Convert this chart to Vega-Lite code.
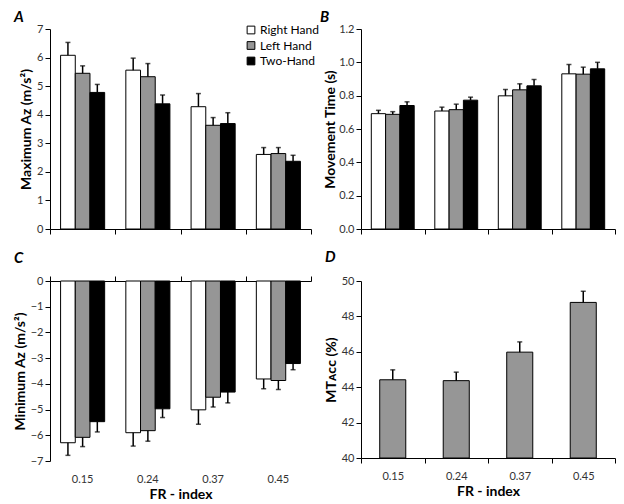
{
  "$schema": "https://vega.github.io/schema/vega-lite/v6.json",
  "background": "white",
  "padding": {"left": 13, "top": 10, "right": 5, "bottom": 5},
  "config": {
    "font": "Lato",
    "view": {"stroke": null},
    "axis": {"labelFont": "Lato", "labelFontSize": 11, "labelColor": "#333333", "labelOverlap": false, "titleFont": "Lato", "titleFontSize": 14, "titleFontWeight": "bold", "titleColor": "#000000", "domainColor": "#000000", "tickColor": "#000000", "domainWidth": 1, "tickWidth": 1, "tickSize": 5, "grid": false, "labelPadding": 2, "titlePadding": 3},
    "title": {"font": "Lato", "fontSize": 15, "fontWeight": "bold", "fontStyle": "italic", "color": "#000000", "anchor": "start", "frame": "group"}
  },
  "datasets": {
    "A": [
      {"fr": "0.15", "hand": "Right Hand", "v": 6.08, "e": 6.53},
      {"fr": "0.15", "hand": "Left Hand", "v": 5.45, "e": 5.71},
      {"fr": "0.15", "hand": "Two-Hand", "v": 4.78, "e": 5.06},
      {"fr": "0.24", "hand": "Right Hand", "v": 5.56, "e": 5.98},
      {"fr": "0.24", "hand": "Left Hand", "v": 5.33, "e": 5.79},
      {"fr": "0.24", "hand": "Two-Hand", "v": 4.38, "e": 4.69},
      {"fr": "0.37", "hand": "Right Hand", "v": 4.28, "e": 4.74},
      {"fr": "0.37", "hand": "Left Hand", "v": 3.63, "e": 3.90},
      {"fr": "0.37", "hand": "Two-Hand", "v": 3.69, "e": 4.07},
      {"fr": "0.45", "hand": "Right Hand", "v": 2.61, "e": 2.85},
      {"fr": "0.45", "hand": "Left Hand", "v": 2.64, "e": 2.85},
      {"fr": "0.45", "hand": "Two-Hand", "v": 2.37, "e": 2.58}
    ],
    "B": [
      {"fr": "0.15", "hand": "Right Hand", "v": 0.692, "e": 0.712},
      {"fr": "0.15", "hand": "Left Hand", "v": 0.688, "e": 0.704},
      {"fr": "0.15", "hand": "Two-Hand", "v": 0.741, "e": 0.763},
      {"fr": "0.24", "hand": "Right Hand", "v": 0.708, "e": 0.731},
      {"fr": "0.24", "hand": "Left Hand", "v": 0.716, "e": 0.749},
      {"fr": "0.24", "hand": "Two-Hand", "v": 0.773, "e": 0.791},
      {"fr": "0.37", "hand": "Right Hand", "v": 0.799, "e": 0.837},
      {"fr": "0.37", "hand": "Left Hand", "v": 0.835, "e": 0.871},
      {"fr": "0.37", "hand": "Two-Hand", "v": 0.859, "e": 0.897},
      {"fr": "0.45", "hand": "Right Hand", "v": 0.931, "e": 0.987},
      {"fr": "0.45", "hand": "Left Hand", "v": 0.929, "e": 0.971},
      {"fr": "0.45", "hand": "Two-Hand", "v": 0.961, "e": 1.000}
    ],
    "C": [
      {"fr": "0.15", "hand": "Right Hand", "v": -6.29, "e": -6.78},
      {"fr": "0.15", "hand": "Left Hand", "v": -6.08, "e": -6.44},
      {"fr": "0.15", "hand": "Two-Hand", "v": -5.47, "e": -5.87},
      {"fr": "0.24", "hand": "Right Hand", "v": -5.90, "e": -6.42},
      {"fr": "0.24", "hand": "Left Hand", "v": -5.82, "e": -6.23},
      {"fr": "0.24", "hand": "Two-Hand", "v": -4.97, "e": -5.31},
      {"fr": "0.37", "hand": "Right Hand", "v": -5.01, "e": -5.57},
      {"fr": "0.37", "hand": "Left Hand", "v": -4.52, "e": -4.90},
      {"fr": "0.37", "hand": "Two-Hand", "v": -4.32, "e": -4.74},
      {"fr": "0.45", "hand": "Right Hand", "v": -3.81, "e": -4.19},
      {"fr": "0.45", "hand": "Left Hand", "v": -3.87, "e": -4.22},
      {"fr": "0.45", "hand": "Two-Hand", "v": -3.21, "e": -3.45}
    ],
    "D": [
      {"fr": "0.15", "v": 44.42, "e": 44.98},
      {"fr": "0.24", "v": 44.37, "e": 44.85},
      {"fr": "0.37", "v": 45.98, "e": 46.56},
      {"fr": "0.45", "v": 48.79, "e": 49.42}
    ]
  },
  "columns": 2,
  "spacing": {"row": 15, "column": 1},
  "resolve": {"scale": {"fill": "independent", "y": "independent", "x": "independent", "xOffset": "independent"}, "legend": {"fill": "independent"}},
  "concat": [
    {
      "title": {"text": "A", "dx": -36, "offset": -2},
      "width": 261, "height": 200,
      "data": {"name": "A"},
      "layer": [
        {
          "mark": {"type": "bar", "stroke": "#000000", "strokeWidth": 1},
          "encoding": {
            "x": {"field": "fr", "type": "nominal", "scale": {"paddingInner": 0, "paddingOuter": 0}, "axis": {"labels": false, "title": null, "tickBand": "extent"}},
            "xOffset": {"field": "hand", "type": "nominal", "scale": {"domain": ["Right Hand", "Left Hand", "Two-Hand"], "paddingInner": 0, "paddingOuter": 0.72}},
            "y": {"field": "v", "type": "quantitative", "title": "Maximum Aᴢ (m/s²)", "scale": {"domain": [0, 7], "nice": false}, "axis": {"values": [0, 1, 2, 3, 4, 5, 6, 7], "labelOverlap": false}},
            "fill": {"field": "hand", "type": "nominal", "scale": {"domain": ["Right Hand", "Left Hand", "Two-Hand"], "range": ["#ffffff", "#969696", "#000000"]},
              "legend": {"title": null, "orient": "none", "legendX": 195, "legendY": -5, "symbolType": "square", "symbolSize": 60, "symbolStrokeColor": "#000000", "symbolStrokeWidth": 1, "labelFontSize": 12, "labelColor": "#000000", "labelFont": "Lato", "rowPadding": 3.5, "labelOffset": 3}}
          }
        },
        {
          "mark": {"type": "rule", "color": "#000000", "strokeWidth": 1.5},
          "encoding": {
            "x": {"field": "fr", "type": "nominal", "axis": {"labels": false, "title": null, "tickBand": "extent"}},
            "xOffset": {"field": "hand", "type": "nominal"},
            "y": {"field": "v", "type": "quantitative", "title": "Maximum Aᴢ (m/s²)", "axis": {"values": [0, 1, 2, 3, 4, 5, 6, 7], "labelOverlap": false}},
            "y2": {"field": "e"}
          }
        },
        {
          "mark": {"type": "tick", "color": "#000000", "thickness": 1.5, "size": 5},
          "encoding": {
            "x": {"field": "fr", "type": "nominal", "axis": {"labels": false, "title": null, "tickBand": "extent"}},
            "xOffset": {"field": "hand", "type": "nominal"},
            "y": {"field": "e", "type": "quantitative", "title": "Maximum Aᴢ (m/s²)", "axis": {"values": [0, 1, 2, 3, 4, 5, 6, 7], "labelOverlap": false}}
          }
        }
      ]
    },
    {
      "title": {"text": "B", "dx": -41, "offset": -2},
      "width": 254, "height": 200,
      "data": {"name": "B"},
      "layer": [
        {
          "mark": {"type": "bar", "stroke": "#000000", "strokeWidth": 1},
          "encoding": {
            "x": {"field": "fr", "type": "nominal", "scale": {"paddingInner": 0, "paddingOuter": 0}, "axis": {"labels": false, "title": null, "tickBand": "extent"}},
            "xOffset": {"field": "hand", "type": "nominal", "scale": {"domain": ["Right Hand", "Left Hand", "Two-Hand"], "paddingInner": 0, "paddingOuter": 0.72}},
            "y": {"field": "v", "type": "quantitative", "title": "Movement Time (s)", "scale": {"domain": [0, 1.2], "nice": false}, "axis": {"values": [0, 0.2, 0.4, 0.6, 0.8, 1.0, 1.2], "format": ".1f", "titlePadding": 1, "labelOverlap": false}},
            "fill": {"field": "hand", "type": "nominal", "scale": {"domain": ["Right Hand", "Left Hand", "Two-Hand"], "range": ["#ffffff", "#969696", "#000000"]}, "legend": null}
          }
        },
        {
          "mark": {"type": "rule", "color": "#000000", "strokeWidth": 1.5},
          "encoding": {
            "x": {"field": "fr", "type": "nominal", "axis": {"labels": false, "title": null, "tickBand": "extent"}},
            "xOffset": {"field": "hand", "type": "nominal"},
            "y": {"field": "v", "type": "quantitative", "title": "Movement Time (s)", "axis": {"values": [0, 0.2, 0.4, 0.6, 0.8, 1.0, 1.2], "format": ".1f", "titlePadding": 1, "labelOverlap": false}},
            "y2": {"field": "e"}
          }
        },
        {
          "mark": {"type": "tick", "color": "#000000", "thickness": 1.5, "size": 5},
          "encoding": {
            "x": {"field": "fr", "type": "nominal", "axis": {"labels": false, "title": null, "tickBand": "extent"}},
            "xOffset": {"field": "hand", "type": "nominal"},
            "y": {"field": "e", "type": "quantitative", "title": "Movement Time (s)", "axis": {"values": [0, 0.2, 0.4, 0.6, 0.8, 1.0, 1.2], "format": ".1f", "titlePadding": 1, "labelOverlap": false}}
          }
        }
      ]
    },
    {
      "title": {"text": "C", "dx": -36, "offset": 9},
      "width": 261, "height": 180,
      "data": {"name": "C"},
      "resolve": {"axis": {"x": "independent"}},
      "layer": [
        {
          "mark": {"type": "bar", "stroke": "#000000", "strokeWidth": 1},
          "encoding": {
            "x": {"field": "fr", "type": "nominal", "scale": {"paddingInner": 0, "paddingOuter": 0}, "axis": {"orient": "top", "labels": false, "title": null, "tickBand": "extent"}},
            "xOffset": {"field": "hand", "type": "nominal", "scale": {"domain": ["Right Hand", "Left Hand", "Two-Hand"], "paddingInner": 0, "paddingOuter": 0.72}},
            "y": {"field": "v", "type": "quantitative", "title": "Minimum Aᴢ (m/s²)", "scale": {"domain": [-7, 0], "nice": false}, "axis": {"values": [-7, -6, -5, -4, -3, -2, -1, 0], "labelOverlap": false}},
            "fill": {"field": "hand", "type": "nominal", "scale": {"domain": ["Right Hand", "Left Hand", "Two-Hand"], "range": ["#ffffff", "#969696", "#000000"]}, "legend": null}
          }
        },
        {
          "mark": {"type": "rule", "color": "#000000", "strokeWidth": 1.5},
          "encoding": {
            "x": {"field": "fr", "type": "nominal", "title": "FR - index", "axis": {"orient": "bottom", "domain": false, "ticks": false, "tickSize": 0, "labelPadding": 12, "labelAngle": 0, "titleFontSize": 14, "titlePadding": 3}},
            "xOffset": {"field": "hand", "type": "nominal"},
            "y": {"field": "v", "type": "quantitative", "title": "Minimum Aᴢ (m/s²)", "axis": {"values": [-7, -6, -5, -4, -3, -2, -1, 0], "labelOverlap": false}},
            "y2": {"field": "e"}
          }
        },
        {
          "mark": {"type": "tick", "color": "#000000", "thickness": 1.5, "size": 5},
          "encoding": {
            "x": {"field": "fr", "type": "nominal", "axis": null},
            "xOffset": {"field": "hand", "type": "nominal"},
            "y": {"field": "e", "type": "quantitative", "title": "Minimum Aᴢ (m/s²)", "axis": {"values": [-7, -6, -5, -4, -3, -2, -1, 0], "labelOverlap": false}}
          }
        }
      ]
    },
    {
      "title": {"text": "D", "dx": -36, "offset": 10},
      "width": 254, "height": 177,
      "data": {"name": "D"},
      "layer": [
        {
          "mark": {"type": "bar", "stroke": "#000000", "strokeWidth": 1, "fill": "#969696", "width": {"band": 0.41}},
          "encoding": {
            "x": {"field": "fr", "type": "nominal", "title": "FR - index", "scale": {"paddingInner": 0, "paddingOuter": 0}, "axis": {"tickBand": "extent", "labelAngle": 0, "labelPadding": 7, "titleFontSize": 14, "titlePadding": 3}},
            "y": {"field": "v", "type": "quantitative", "title": "MTᴀᴄᴄ (%)", "scale": {"domain": [40, 50], "nice": false, "zero": false}, "axis": {"values": [40, 42, 44, 46, 48, 50], "labelOverlap": false}},
            "y2": {"datum": 40}
          }
        },
        {
          "mark": {"type": "rule", "color": "#000000", "strokeWidth": 1.5},
          "encoding": {
            "x": {"field": "fr", "type": "nominal", "title": "FR - index", "axis": {"tickBand": "extent", "labelAngle": 0, "labelPadding": 7, "titleFontSize": 14, "titlePadding": 3}},
            "y": {"field": "v", "type": "quantitative", "title": "MTᴀᴄᴄ (%)", "axis": {"values": [40, 42, 44, 46, 48, 50], "labelOverlap": false}},
            "y2": {"field": "e"}
          }
        },
        {
          "mark": {"type": "tick", "color": "#000000", "thickness": 1.5, "size": 5},
          "encoding": {
            "x": {"field": "fr", "type": "nominal", "title": "FR - index", "axis": {"tickBand": "extent", "labelAngle": 0, "labelPadding": 7, "titleFontSize": 14, "titlePadding": 3}},
            "y": {"field": "e", "type": "quantitative", "title": "MTᴀᴄᴄ (%)", "axis": {"values": [40, 42, 44, 46, 48, 50], "labelOverlap": false}}
          }
        }
      ]
    }
  ]
}
